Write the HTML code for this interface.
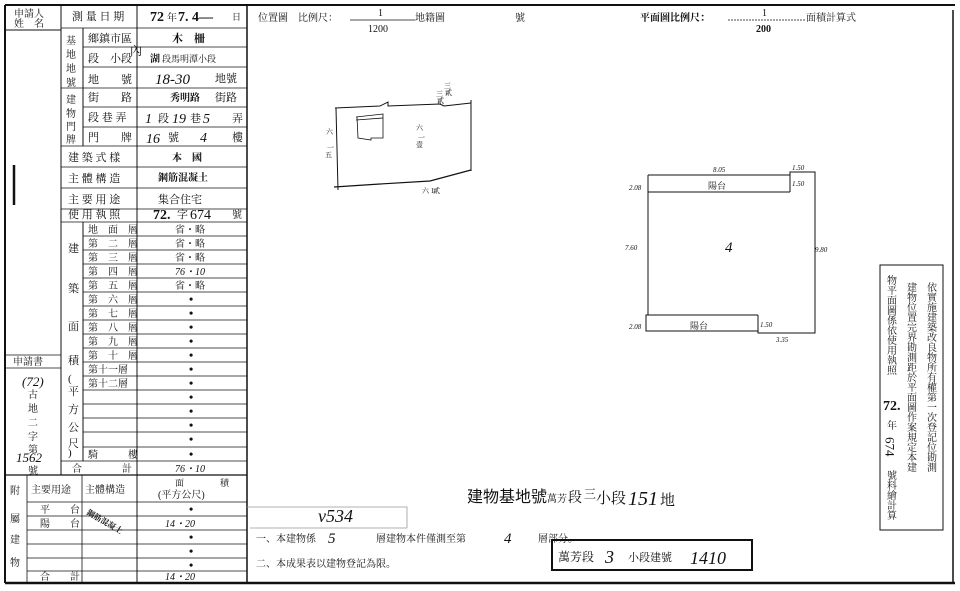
<!DOCTYPE html>
<html><head><meta charset="utf-8"><style>
html,body{margin:0;padding:0;background:#fff;}
svg{display:block;}
text{font-family:"Liberation Serif","Noto Serif CJK SC","Noto Sans CJK TC",serif;fill:#111;}
.s{font-size:11px;}
.h{font-family:"Liberation Sans","Noto Sans CJK TC",sans-serif;}
</style></head><body>
<svg width="960" height="591" viewBox="0 0 960 591" xmlns="http://www.w3.org/2000/svg">
<g stroke="#111" fill="none">
<!-- outer frame -->
<line x1="5" y1="5" x2="955" y2="5" stroke-width="2"/>
<line x1="5" y1="583" x2="955" y2="583" stroke-width="2.5"/>
<line x1="5" y1="5" x2="5" y2="583" stroke-width="2"/>
<line x1="247" y1="5" x2="247" y2="583" stroke-width="1.5"/>
<line x1="953" y1="10" x2="953" y2="583" stroke-width="1.5"/>
<!-- left table columns -->
<line x1="61" y1="5" x2="61" y2="475" stroke-width="1"/>
<line x1="137" y1="5" x2="137" y2="583" stroke-width="1"/>
<line x1="83" y1="28" x2="83" y2="146" stroke-width="1"/>
<line x1="83" y1="222" x2="83" y2="461" stroke-width="1"/>
<line x1="5" y1="30" x2="61" y2="30" stroke-width="1"/>
<!-- top rows -->
<g stroke-width="0.8">
<line x1="61" y1="28" x2="247" y2="28"/>
<line x1="83" y1="47" x2="247" y2="47"/>
<line x1="83" y1="67" x2="247" y2="67"/>
<line x1="61" y1="88" x2="247" y2="88"/>
<line x1="83" y1="107" x2="247" y2="107"/>
<line x1="83" y1="127" x2="247" y2="127"/>
<line x1="61" y1="146" x2="247" y2="146"/>
<line x1="61" y1="167" x2="247" y2="167"/>
<line x1="61" y1="188" x2="247" y2="188"/>
<line x1="61" y1="209" x2="247" y2="209"/>
<line x1="61" y1="222" x2="247" y2="222"/>
<line x1="83" y1="236" x2="247" y2="236"/>
<line x1="83" y1="250" x2="247" y2="250"/>
<line x1="83" y1="264" x2="247" y2="264"/>
<line x1="83" y1="278" x2="247" y2="278"/>
<line x1="83" y1="292" x2="247" y2="292"/>
<line x1="83" y1="306" x2="247" y2="306"/>
<line x1="83" y1="320" x2="247" y2="320"/>
<line x1="83" y1="334" x2="247" y2="334"/>
<line x1="83" y1="348" x2="247" y2="348"/>
<line x1="83" y1="362" x2="247" y2="362"/>
<line x1="83" y1="376" x2="247" y2="376"/>
<line x1="83" y1="390" x2="247" y2="390"/>
<line x1="83" y1="404" x2="247" y2="404"/>
<line x1="83" y1="418" x2="247" y2="418"/>
<line x1="83" y1="432" x2="247" y2="432"/>
<line x1="83" y1="447" x2="247" y2="447"/>
<line x1="61" y1="461" x2="247" y2="461"/>
<line x1="5" y1="475" x2="247" y2="475" stroke-width="1.2"/>
<line x1="5" y1="355" x2="61" y2="355"/>
<line x1="5" y1="368" x2="61" y2="368"/>
<!-- attached building -->
<line x1="27" y1="475" x2="27" y2="583"/>
<line x1="82" y1="475" x2="82" y2="583"/>
<line x1="27" y1="502" x2="247" y2="502"/>
<line x1="27" y1="516" x2="247" y2="516"/>
<line x1="27" y1="530" x2="247" y2="530"/>
<line x1="27" y1="544" x2="247" y2="544"/>
<line x1="27" y1="558" x2="247" y2="558"/>
<line x1="27" y1="571" x2="247" y2="571"/>
</g>
<!-- header fraction lines -->
<line x1="350" y1="20" x2="415" y2="20" stroke-width="0.8"/>
<line x1="728" y1="20" x2="805" y2="20" stroke-width="0.8" stroke-dasharray="2 1"/>
<!-- location map -->
<polyline points="335,108 380,106 388,102 388,106 440,104 444,106 471,103" stroke-width="1"/>
<line x1="471" y1="100" x2="471" y2="171" stroke-width="1"/>
<line x1="336" y1="108" x2="338" y2="190" stroke-width="1"/>
<polyline points="334,187 380,184 430,181 471,170" stroke-width="1.2"/>
<polyline points="356,117 383,114 383,138 371,138 371,140 358,138 357,117" stroke-width="0.8"/>
<line x1="356" y1="120" x2="383" y2="118" stroke-width="0.8"/>
<!-- floor plan -->
<polyline points="648,175 790,175 790,172 815,172 815,333 758,333 758,331 646,331 646,315 648,315 648,175" stroke-width="1"/>
<line x1="648" y1="192" x2="790" y2="192" stroke-width="1"/>
<line x1="790" y1="175" x2="790" y2="192" stroke-width="1"/>
<line x1="646" y1="315" x2="758" y2="315" stroke-width="1"/>
<line x1="758" y1="315" x2="758" y2="333" stroke-width="1"/>
<!-- right vertical note box -->
<rect x="880" y="265" width="63" height="265" stroke-width="1"/>
<!-- bottom boxes -->
<polyline points="247,507 407,507 407,528 250,528" stroke-width="0.8" stroke="#999"/>
<rect x="552" y="540" width="200" height="30" stroke-width="2"/>
<!-- faded left marks -->
<line x1="14" y1="165" x2="14" y2="205" stroke-width="2.5"/>
</g>

<!-- LEFT TABLE TEXT -->
<g class="s">
<text x="14" y="17" font-size="10">申請人</text>
<text x="14" y="27" font-size="10">姓　名</text>
<text x="72" y="20">測 量 日 期</text>
<text x="150" y="21" font-size="14" font-weight="bold">72</text><text x="167" y="21" font-size="10">年</text><text x="178" y="21" font-size="14" font-weight="bold">7. 4—</text><text x="232" y="20" font-size="9">日</text>
<text x="66" y="44" font-size="10">基</text><text x="66" y="58" font-size="10">地</text><text x="66" y="72" font-size="10">地</text><text x="66" y="86" font-size="10">號</text>
<text x="88" y="42">鄉鎮市區</text>
<text x="172" y="42" font-weight="bold">木　柵</text>
<text x="88" y="62">段　小段</text><text x="130" y="55" font-size="12">內</text>
<text x="150" y="62" font-size="10" font-weight="bold">湖</text><text x="162" y="62" font-size="9">段馬明潭小段</text>
<text x="88" y="83">地　　號</text>
<text x="155" y="84" font-size="15" font-style="italic">18-30</text><text x="215" y="82">地號</text>
<text x="66" y="103" font-size="10">建</text><text x="66" y="117" font-size="10">物</text><text x="66" y="130" font-size="10">門</text><text x="66" y="143" font-size="10">牌</text>
<text x="88" y="101">街　　路</text>
<text x="170" y="101" font-weight="bold" font-size="10">秀明路</text><text x="215" y="101">街路</text>
<text x="88" y="121">段 巷 弄</text>
<text x="145" y="123" font-size="14" font-style="italic">1</text><text x="158" y="122">段</text><text x="172" y="123" font-size="14" font-style="italic">19</text><text x="190" y="122">巷</text><text x="203" y="123" font-size="14" font-style="italic">5</text><text x="232" y="122">弄</text>
<text x="88" y="141">門　　牌</text>
<text x="146" y="143" font-size="14" font-style="italic">16</text><text x="168" y="141">號</text><text x="200" y="142" font-size="14" font-style="italic">4</text><text x="232" y="141">樓</text>
<text x="68" y="161">建 築 式 樣</text><text x="172" y="161" font-weight="bold" font-size="10">本　國</text>
<text x="68" y="182">主 體 構 造</text><text x="158" y="181" font-weight="bold" font-size="10">鋼筋混凝土</text>
<text x="68" y="203">主 要 用 途</text><text x="158" y="203" fill="#999">集合住宅</text>
<text x="68" y="218">使 用 執 照</text>
<text x="153" y="219" font-size="14" font-weight="bold">72.</text><text x="177" y="218">字</text><text x="190" y="219" font-size="14">674</text><text x="232" y="218" font-size="10">號</text>
<text x="68" y="252">建</text><text x="68" y="292">築</text><text x="68" y="330">面</text><text x="68" y="364">積</text>
<text x="68" y="382">(</text><text x="68" y="395">平</text><text x="68" y="413">方</text><text x="68" y="431">公</text><text x="68" y="447">尺</text><text x="68" y="456">)</text>
</g>
<g font-size="10">
<text x="88" y="233">地　面　層</text>
<text x="88" y="247">第　二　層</text>
<text x="88" y="261">第　三　層</text>
<text x="88" y="275">第　四　層</text>
<text x="88" y="289">第　五　層</text>
<text x="88" y="303">第　六　層</text>
<text x="88" y="317">第　七　層</text>
<text x="88" y="331">第　八　層</text>
<text x="88" y="345">第　九　層</text>
<text x="88" y="359">第　十　層</text>
<text x="88" y="373">第十一層</text>
<text x="88" y="387">第十二層</text>
<text x="88" y="458">騎　　　樓</text>
<text x="72" y="472">合　　　　計</text>
<text x="175" y="233" fill="#999">省・略</text>
<text x="175" y="247">省・略</text>
<text x="175" y="261">省・略</text>
<text x="175" y="275" font-style="italic">76・10</text>
<text x="175" y="289">省・略</text>
<text x="175" y="472" font-style="italic">76・10</text>
</g>
<g font-size="12" font-weight="bold">
<text x="189" y="303">•</text><text x="189" y="317">•</text><text x="189" y="331">•</text><text x="189" y="345">•</text><text x="189" y="359">•</text><text x="189" y="373">•</text><text x="189" y="387">•</text><text x="189" y="401">•</text><text x="189" y="415">•</text><text x="189" y="429">•</text><text x="189" y="443">•</text><text x="189" y="458">•</text>
<text x="189" y="513">•</text><text x="189" y="541">•</text><text x="189" y="555">•</text><text x="189" y="569">•</text>
</g>
<g font-size="10">
<text x="13" y="365">申請書</text>
<text x="22" y="386" font-size="13" font-style="italic">(72)</text>
<text x="28" y="398">古</text>
<text x="28" y="412">地</text>
<text x="28" y="426">二</text>
<text x="28" y="440">字</text>
<text x="28" y="453">第</text>
<text x="16" y="462" font-size="13" font-style="italic">1562</text>
<text x="28" y="474">號</text>
<text x="10" y="494">附</text><text x="10" y="522">屬</text><text x="10" y="543">建</text><text x="10" y="566">物</text>
<text x="31" y="493">主要用途</text><text x="85" y="493">主體構造</text>
<text x="175" y="486" font-size="9">面　　　　積</text><text x="158" y="498">(平方公尺)</text>
<text x="40" y="513">平　　台</text>
<text x="40" y="527">陽　　台</text>
<text x="40" y="580">合　　計</text>
<text x="165" y="527" font-style="italic">14・20</text>
<text x="165" y="580" font-style="italic">14・20</text>
<text x="86" y="514" font-size="8" font-weight="bold" transform="rotate(30 86 514)">鋼筋混凝土</text>
</g>

<!-- HEADER -->
<g font-size="10">
<text x="258" y="21">位置圖　比例尺：</text>
<text x="378" y="16" font-size="10">1</text>
<text x="368" y="32" font-size="10">1200</text>
<text x="415" y="21">地籍圖</text>
<text x="515" y="21">號</text>
<text x="640" y="21" font-weight="bold">平面圖比例尺：</text>
<text x="762" y="16">1</text>
<text x="756" y="32" font-weight="bold">200</text>
<text x="806" y="21">面積計算式</text>
</g>

<!-- location map labels -->
<g font-size="7">
<text x="444" y="88">三</text><text x="445" y="95">貳</text>
<text x="436" y="96">三</text><text x="437" y="103">貳</text>
<text x="326" y="134">六</text><text x="327" y="150">一</text><text x="325" y="157">五</text>
<text x="416" y="130">六</text><text x="418" y="140">一</text><text x="416" y="147">壹</text>
<text x="422" y="193">六 1</text><text x="433" y="193">貳</text>
</g>
<!-- plan labels -->
<g font-size="7" font-style="italic">
<text x="713" y="172">8.05</text>
<text x="792" y="170">1.50</text>
<text x="792" y="186">1.50</text>
<text x="629" y="190">2.08</text>
<text x="625" y="250">7.60</text>
<text x="815" y="252">9.80</text>
<text x="629" y="329">2.08</text>
<text x="760" y="327">1.50</text>
<text x="776" y="342">3.35</text>
</g>
<text x="725" y="252" font-size="15" font-style="italic">4</text>
<text x="708" y="189" font-size="9" fill="#aaa">陽台</text>
<text x="690" y="329" font-size="9" fill="#aaa">陽台</text>

<!-- right vertical note -->
<g font-size="10">
<text x="930" y="282" writing-mode="tb">依實施建築改良物所有權第一次登記位勘測</text>
<text x="910" y="282" writing-mode="tb">建物位置完界勘測距於平面圖作案規定本建</text>
<text x="890" y="275" writing-mode="tb">物平面圖係依使用執照</text>
<text x="883" y="410" font-size="14" font-weight="bold">72.</text>
<text x="890" y="420" writing-mode="tb">年</text>
<text x="890" y="437" writing-mode="tb" font-size="13">674</text>
<text x="890" y="470" writing-mode="tb">號料繪計算</text>
</g>

<!-- bottom notes -->
<text x="467" y="502" font-size="16" class="h" fill="#333">建物基地號</text>
<text x="547" y="502" font-size="10" fill="#555">萬芳</text>
<text x="568" y="502" font-size="14">段</text>
<text x="584" y="498" font-size="12">三</text>
<text x="596" y="503" font-size="15">小段</text>
<text x="628" y="505" font-size="20" font-style="italic">151</text>
<text x="660" y="505" font-size="15">地</text>
<text x="318" y="522" font-size="18" font-style="italic">ν534</text>
<g font-size="10">
<text x="256" y="542">一、本建物係</text>
<text x="328" y="543" font-size="15" font-style="italic">5</text>
<text x="376" y="542">層建物本件僅測至第</text>
<text x="504" y="543" font-size="15" font-style="italic">4</text>
<text x="538" y="542">層部分。</text>
<text x="256" y="567">二、本成果表以建物登記為限。</text>
</g>
<text x="558" y="561" font-size="12">萬芳段</text>
<text x="605" y="563" font-size="18" font-style="italic">3</text>
<text x="628" y="561" font-size="11">小段建號</text>
<text x="690" y="564" font-size="18" font-style="italic">1410</text>
</svg>
</body></html>
